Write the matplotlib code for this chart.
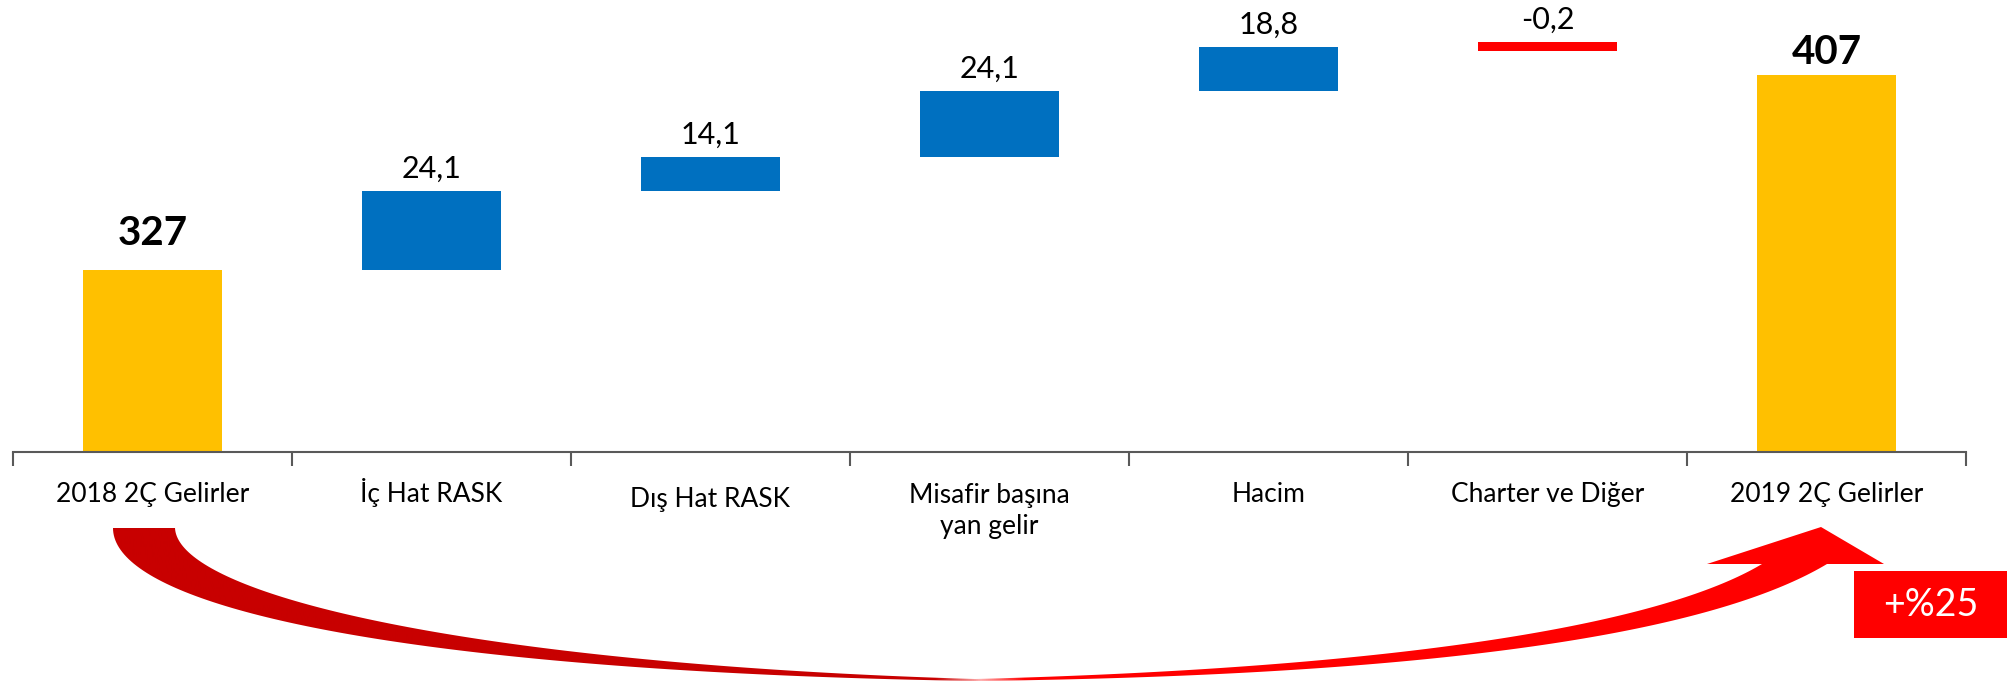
import matplotlib
matplotlib.use('Agg')
import matplotlib.pyplot as plt
import numpy as np
from matplotlib import font_manager
from matplotlib.font_manager import FontProperties
from matplotlib.patches import Polygon, Rectangle
from matplotlib.colors import LinearSegmentedColormap
from matplotlib.transforms import blended_transform_factory

categories = ['2018 2Ç Gelirler', 'İç Hat RASK', 'Dış Hat RASK',
              'Misafir başına\nyan gelir', 'Hacim', 'Charter ve Diğer',
              '2019 2Ç Gelirler']
value_labels = ['327', '24,1', '14,1', '24,1', '18,8', '-0,2', '407']
# bar extents as drawn in the picture (value units)
bar_bottom = [252.0, 327.0, 359.5, 373.3, 400.7, 417.1, 252.0]
bar_top = [327.0, 359.5, 373.3, 400.7, 418.8, 420.8, 407.0]
kinds = ['total', 'up', 'up', 'up', 'up', 'down', 'total']
change_text = '+%25'

colors = {'total': '#FFC000', 'up': '#0070C0', 'down': '#FF0000'}


def pick_font(names):
    for n in names:
        try:
            font_manager.findfont(FontProperties(family=n), fallback_to_default=False)
            return n
        except ValueError:
            continue
    return 'DejaVu Sans'


FONT = pick_font(['Liberation Sans Narrow', 'Lato', 'Liberation Sans'])
plt.rcParams['font.family'] = [FONT, 'DejaVu Sans']

W, H = 2008, 681
fig = plt.figure(figsize=(W / 100, H / 100), dpi=100)
ax = fig.add_axes([13 / W, 1 - 452 / H, (1966 - 13) / W, 452 / H])
ax.patch.set_visible(False)

x = np.arange(len(categories))
heights = [t - b for t, b in zip(bar_top, bar_bottom)]
ax.bar(x, heights, bottom=bar_bottom, width=0.5,
       color=[colors[k] for k in kinds], zorder=2)

ax.set_xlim(-0.5, len(categories) - 0.5)
ax.set_ylim(252, 438)

for i, (lab, k) in enumerate(zip(value_labels, kinds)):
    if k == 'total':
        off = 13 if i == 0 else 3
        ax.annotate(lab, (x[i], bar_top[i]), xytext=(0, off), textcoords='offset points',
                    ha='center', va='bottom', fontsize=29, fontweight='bold')
    else:
        ax.annotate(lab, (x[i], bar_top[i]), xytext=(0, 6), textcoords='offset points',
                    ha='center', va='bottom', fontsize=22)

for s in ['top', 'right', 'left']:
    ax.spines[s].set_visible(False)
ax.spines['bottom'].set_color('#595959')
ax.spines['bottom'].set_linewidth(1.5)
ax.set_yticks([])
ax.set_xticks(x)
ax.set_xticklabels([])
ax.tick_params(axis='x', which='major', length=0)
ax.set_xticks(np.arange(-0.5, len(categories), 1), minor=True)
ax.tick_params(axis='x', which='minor', length=10, width=1.5, color='#595959', direction='out')

# category labels on a common baseline (PowerPoint drops "Dış" a little)
trans = blended_transform_factory(ax.transData, ax.transAxes)
base = -50 / 452
for i, cat in enumerate(categories):
    y = base
    if cat.startswith('Dış'):
        y -= 5 / 452
    elif '\n' in cat:
        y = -82 / 452  # baseline of the last line
    ax.text(x[i], y, cat, transform=trans, ha='center', va='baseline',
            fontsize=19, linespacing=1.3)

# curved growth arrow drawn in pixel space
ov = fig.add_axes([0, 0, 1, 1])
ov.axis('off')


def bez(p0, p1, p2, p3, n=100):
    t = np.linspace(0, 1, n)[:, None]
    p0, p1, p2, p3 = map(np.array, (p0, p1, p2, p3))
    return (1 - t) ** 3 * p0 + 3 * (1 - t) ** 2 * t * p1 + 3 * (1 - t) * t ** 2 * p2 + t ** 3 * p3


outer_left = bez((113, 528), (113, 610), (420, 672), (975, 681))
inner_left = bez((175, 528), (178, 595), (470, 664), (975, 679))
lower_right = bez((975, 681), (1400, 676), (1700, 640), (1827, 564))
upper_right = bez((975, 679), (1400, 668), (1660, 625), (1762, 564))
head = np.array([(1884, 564), (1821, 527), (1707, 564)])
pts = np.vstack([outer_left, lower_right[1:], head, upper_right[::-1], inner_left[::-1][1:]])

poly = Polygon(pts, closed=True, facecolor='none', edgecolor='none')
ov.add_patch(poly)
cmap = LinearSegmentedColormap.from_list('arr', ['#C80000', '#FFB0B0', '#FF0000'])
gx = np.linspace(0, W, 1000)
grad = np.clip((gx - 935) / 90, 0, 1)[None, :]
im = ov.imshow(grad, extent=(0, W, H, 0), cmap=cmap, aspect='auto', vmin=0, vmax=1)
im.set_clip_path(poly)
ov.set_xlim(0, W)
ov.set_ylim(H, 0)

ov.add_patch(Rectangle((1854, 571), W - 1854, 67, facecolor='#FF0000', edgecolor='none'))
ov.text(1931, 605, change_text, color='white', fontsize=27, ha='center', va='center')

fig.savefig('out.png', dpi=100)
